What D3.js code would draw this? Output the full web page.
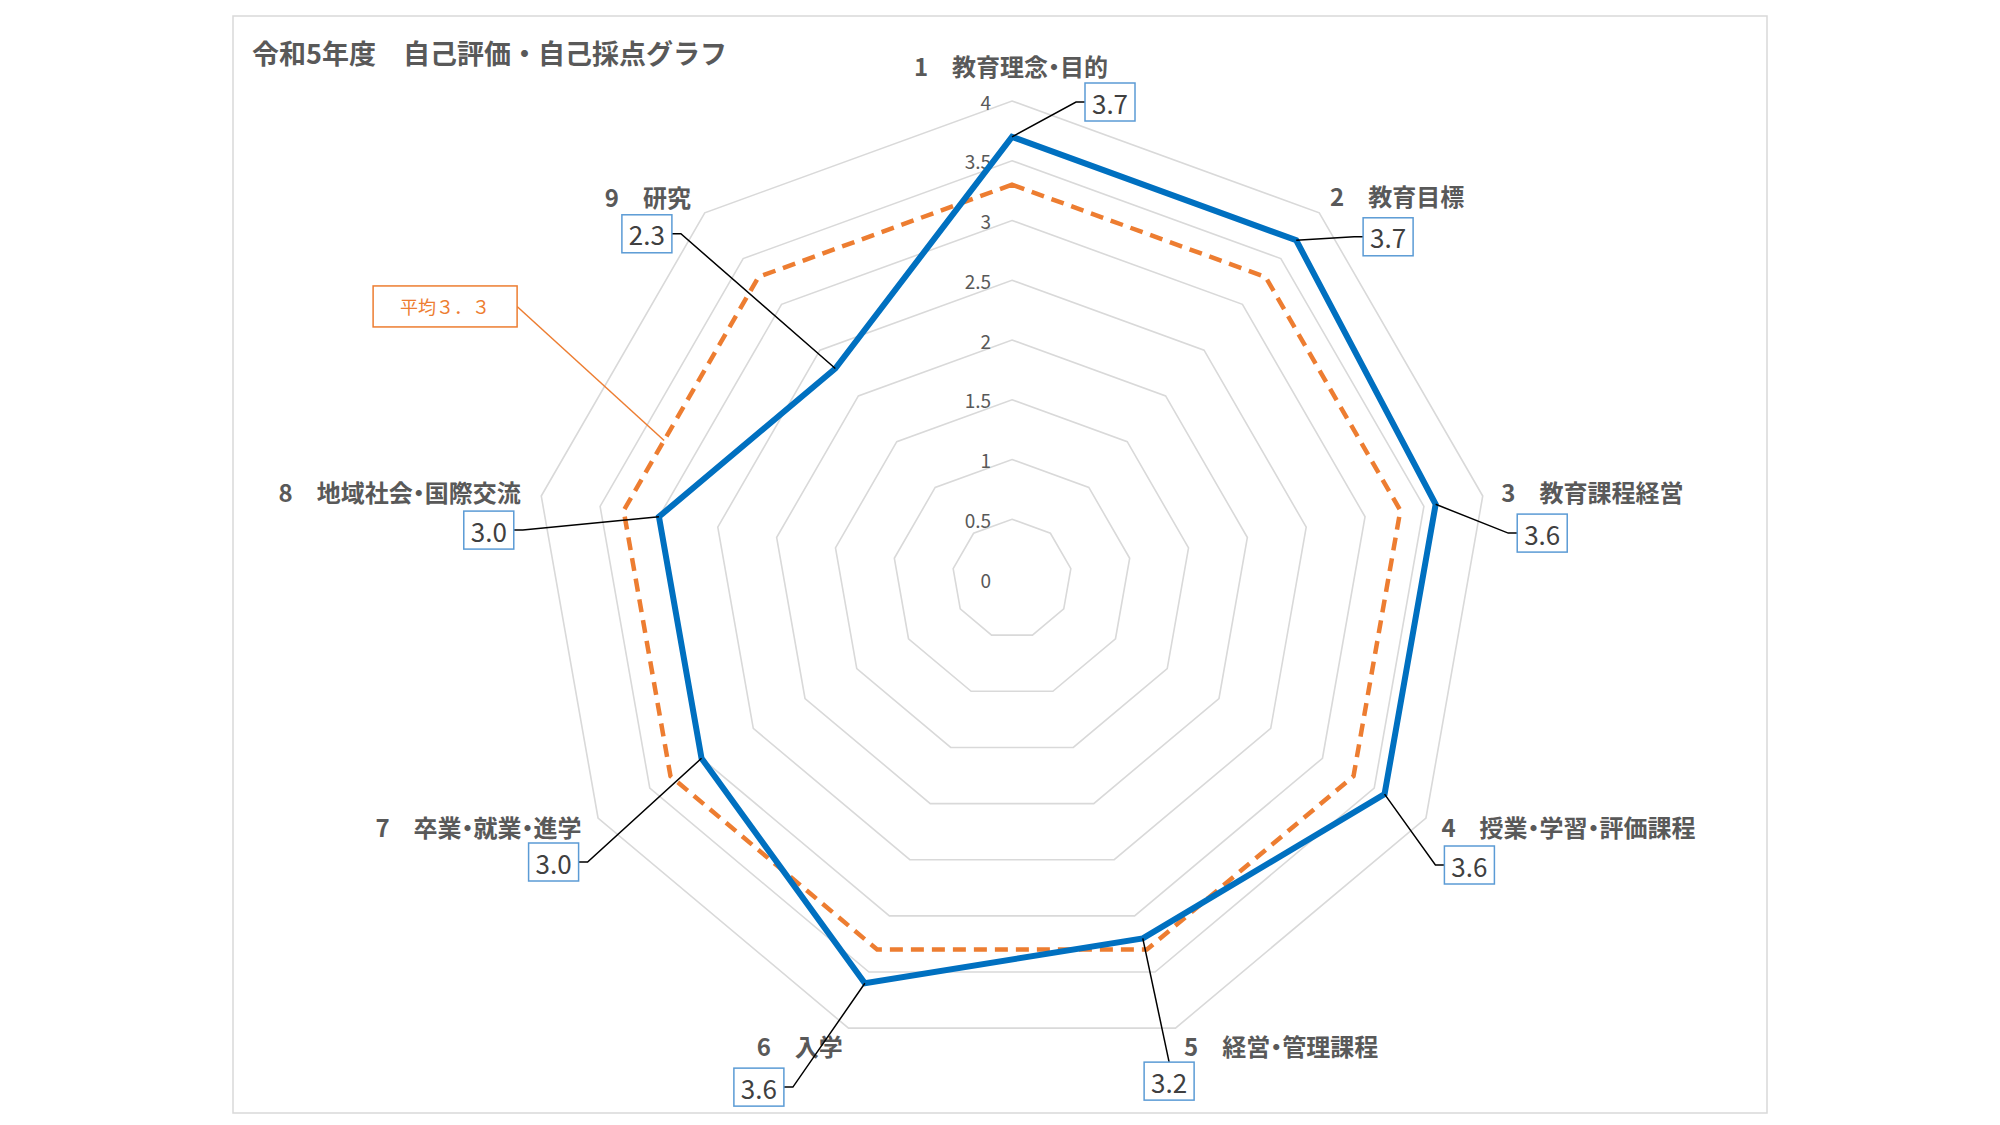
<!DOCTYPE html>
<html>
<head>
<meta charset="utf-8">
<title>自己評価・自己採点グラフ</title>
<script src="https://d3js.org/d3.v7.min.js"></script>
<style>
  body { margin: 0; background: #fff; }
  text { font-family: "Noto Sans CJK JP", "Noto Sans", sans-serif; }
  .palt { font-feature-settings: "palt"; }
</style>
</head>
<body>
<script>
// data
const title = "令和5年度　自己評価・自己採点グラフ";
const categories = [
  "1　教育理念・目的", "2　教育目標", "3　教育課程経営",
  "4　授業・学習・評価課程", "5　経営・管理課程", "6　入学",
  "7　卒業・就業・進学", "8　地域社会・国際交流", "9　研究"
];
const scores   = [3.7, 3.7, 3.6, 3.6, 3.2, 3.6, 3.0, 3.0, 2.3];
const averages = [3.3, 3.3, 3.3, 3.3, 3.3, 3.3, 3.3, 3.3, 3.3];
const ticks    = [0, 0.5, 1, 1.5, 2, 2.5, 3, 3.5, 4];
const averageLabel = "平均３．３";

// layout
const width = 2000, height = 1125;
const cx = 1012, cy = 579, R = 478;
// nudges for category labels, value boxes and leader sides
const labelNudge = [[-1,-2],[-11,9],[-15,1],[-14,-9],[-3,-15],[6,-15],[13,-9],[13,1],[8,10]];
const boxOffset  = [[99,37],[58,41],[41,42],[28,39],[-15,36],[-84,42],[-28,36],[-32,39],[-44,37]];
const leaderSide = ["left","left","left","left","top","right","right","right","right"];
const boxW = 50, boxH = 38;

const svg = d3.select("body").append("svg")
  .attr("width", width)
  .attr("height", height);

svg.append("rect")
  .attr("x", 233).attr("y", 16)
  .attr("width", 1534).attr("height", 1097)
  .attr("fill", "#fff")
  .attr("stroke", "#d9d9d9")
  .attr("stroke-width", 1.5);

svg.append("text")
  .attr("x", 252).attr("y", 52)
  .attr("dominant-baseline", "central")
  .attr("font-size", 27)
  .attr("font-weight", "bold")
  .attr("fill", "#595959")
  .text(title);

const r = d3.scaleLinear().domain([0, 4]).range([0, R]);
const step = 2 * Math.PI / categories.length;
const angle = i => i * step;
const pt = (i, v) => [cx + r(v) * Math.sin(angle(i)), cy - r(v) * Math.cos(angle(i))];

const g = svg.append("g").attr("transform", `translate(${cx},${cy})`);

const radial = d3.lineRadial()
  .angle((d, i) => angle(i))
  .radius(d => r(d))
  .curve(d3.curveLinearClosed);

// grid rings
g.selectAll("path.ring")
  .data(ticks.filter(t => t > 0))
  .enter().append("path")
  .attr("class", "ring")
  .attr("d", t => radial(categories.map(() => t)))
  .attr("fill", "none")
  .attr("stroke", "#d9d9d9")
  .attr("stroke-width", 1.6);

// tick labels
g.selectAll("text.tick")
  .data(ticks)
  .enter().append("text")
  .attr("class", "tick")
  .attr("x", -21)
  .attr("y", t => -r(t))
  .attr("text-anchor", "end")
  .attr("dominant-baseline", "central")
  .attr("font-size", 19)
  .attr("fill", "#595959")
  .text(t => t);

// average series
g.append("path")
  .attr("d", radial(averages))
  .attr("fill", "none")
  .attr("stroke", "#ed7d31")
  .attr("stroke-width", 4.5)
  .attr("stroke-dasharray", "13,8");

// score series
g.append("path")
  .attr("d", radial(scores))
  .attr("fill", "none")
  .attr("stroke", "#0070c0")
  .attr("stroke-width", 6)
  .attr("stroke-linejoin", "miter");

// category labels
const labelPos = categories.map((c, i) => {
  const a = angle(i);
  const x = cx + (R + 34) * Math.sin(a) + labelNudge[i][0];
  const y = cy - (R + 34) * Math.cos(a) + labelNudge[i][1];
  const s = Math.sin(a);
  const anchor = Math.abs(s) < 0.01 ? "middle" : (s > 0 ? "start" : "end");
  return {x, y, anchor};
});

svg.selectAll("text.cat")
  .data(categories)
  .enter().append("text")
  .attr("class", "cat palt")
  .attr("x", (d, i) => labelPos[i].x)
  .attr("y", (d, i) => labelPos[i].y)
  .attr("text-anchor", (d, i) => labelPos[i].anchor)
  .attr("dominant-baseline", "central")
  .attr("font-size", 24)
  .attr("font-weight", "bold")
  .attr("fill", "#595959")
  .text(d => d);

// value boxes with leader lines
const boxes = scores.map((v, i) => {
  const bx = labelPos[i].x + boxOffset[i][0];
  const by = labelPos[i].y + boxOffset[i][1];
  return {v, i, bx, by, p: pt(i, v)};
});

svg.selectAll("path.leader")
  .data(boxes)
  .enter().append("path")
  .attr("class", "leader")
  .attr("d", d => {
    const side = leaderSide[d.i];
    if (side === "top") {
      return d3.line()([d.p, [d.bx, d.by - boxH / 2]]);
    }
    const ex = side === "left" ? d.bx - boxW / 2 : d.bx + boxW / 2;
    const kx = side === "left" ? ex - 9 : ex + 9;
    return d3.line()([d.p, [kx, d.by], [ex, d.by]]);
  })
  .attr("fill", "none")
  .attr("stroke", "#000")
  .attr("stroke-width", 1.5);

const box = svg.selectAll("g.vbox")
  .data(boxes)
  .enter().append("g")
  .attr("class", "vbox")
  .attr("transform", d => `translate(${d.bx},${d.by})`);

box.append("rect")
  .attr("x", -boxW / 2).attr("y", -boxH / 2)
  .attr("width", boxW).attr("height", boxH)
  .attr("fill", "#fff")
  .attr("stroke", "#5b9bd5")
  .attr("stroke-width", 1.5);

box.append("text")
  .attr("text-anchor", "middle")
  .attr("dominant-baseline", "central")
  .attr("font-size", 26)
  .attr("fill", "#404040")
  .text(d => d3.format(".1f")(d.v));

// average callout
const a8 = pt(7, averages[7]), a9 = pt(8, averages[8]);
const target = [a9[0] + (a8[0] - a9[0]) * 0.7, a9[1] + (a8[1] - a9[1]) * 0.7];
const avgW = 144, avgH = 41;
const avgRight = target[0] - 147, avgMid = target[1] - 134;

svg.append("path")
  .attr("d", d3.line()([[avgRight, avgMid], target]))
  .attr("stroke", "#ed7d31")
  .attr("stroke-width", 1.5);

svg.append("rect")
  .attr("x", avgRight - avgW).attr("y", avgMid - avgH / 2)
  .attr("width", avgW).attr("height", avgH)
  .attr("fill", "#fff")
  .attr("stroke", "#ed7d31")
  .attr("stroke-width", 1.5);

svg.append("text")
  .attr("x", avgRight - avgW / 2).attr("y", avgMid)
  .attr("text-anchor", "middle")
  .attr("dominant-baseline", "central")
  .attr("font-size", 18)
  .attr("fill", "#ed7d31")
  .text(averageLabel);
</script>
</body>
</html>
